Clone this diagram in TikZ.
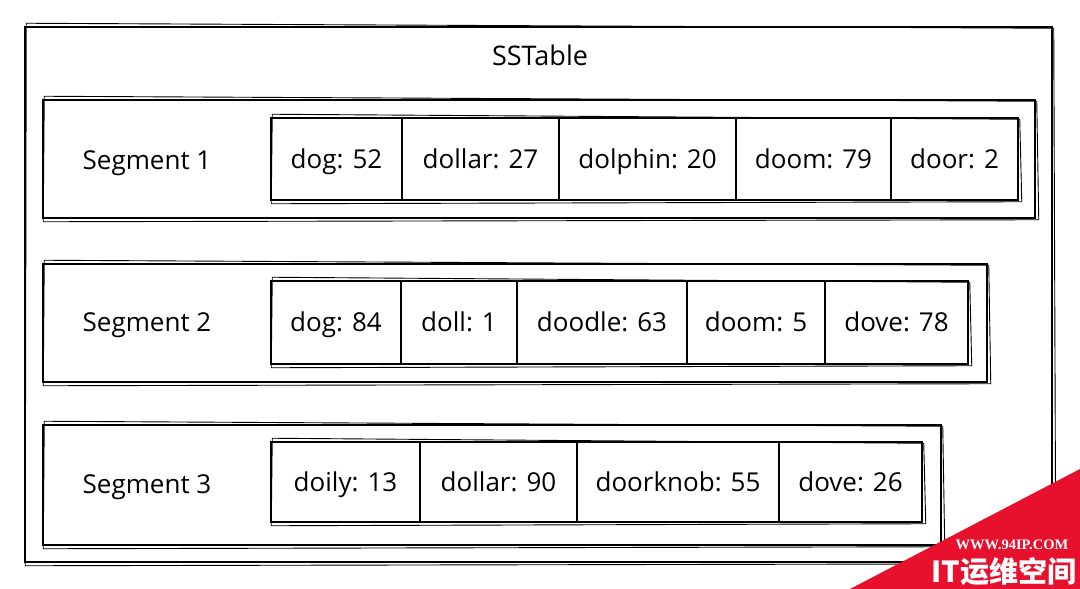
\documentclass[tikz,border=0pt]{standalone}
\usepackage{fontspec}
\setmainfont{Open Sans}
\newfontfamily\cjk{Noto Sans CJK SC}
\newfontfamily\wmserif{Liberation Serif}
\definecolor{wmred}{HTML}{E8112D}
\tikzset{
  sk/.style={draw, line width=1.5pt, inner sep=0pt},
  sk2/.style={draw, line width=0.9pt, line join=round},
  cellbox/.style={sk},
  lbl/.style={font=\fontsize{26}{30}\selectfont, inner sep=0pt,
    text height=19pt, text depth=1pt},
}
\newcommand{\mkcell}[6]{%
  \node[cellbox, lbl, minimum width={(#3-#2)*1pt}, minimum height={(#5-#4)*1pt}]
    (#1) at ({(#2+#3)/2},{(#4+#5)/2}) {#6};}
\newcommand{\mkbox}[5]{%
  \node[sk, minimum width={(#3-#2)*1pt}, minimum height={(#5-#4)*1pt}]
    (#1) at ({(#2+#3)/2},{(#4+#5)/2}) {};}
% second, slightly skewed stroke for a hand-drawn look
\newcommand{\sketch}[1]{%
  \draw[sk2] ([shift={(2,-3)}]#1.north west) -- ([shift={(1,2)}]#1.north east)
    -- ([shift={(3,1)}]#1.south east) -- ([shift={(1,3)}]#1.south west) -- cycle;}
\begin{document}
\begin{tikzpicture}[x=1pt,y=-1pt]
\useasboundingbox[fill=white] (0,0) rectangle (1080,589);
% outer SSTable
\mkbox{sst}{25}{1052}{27}{562}
\sketch{sst}
\node[lbl, font=\fontsize{27}{30}\selectfont] (title) at (540,56) {SSTable};
% segment boxes
\mkbox{seg1}{43}{1035}{100}{218}
\mkbox{seg2}{43}{987}{264}{382}
\mkbox{seg3}{43}{941}{425}{545}
\sketch{seg1}\sketch{seg2}\sketch{seg3}
\node[lbl] (s1) at (147,160) {Segment 1};
\node[lbl] (s2) at (147,322) {Segment 2};
\node[lbl] (s3) at (147,484) {Segment 3};
% row 1
\mkcell{a1}{271}{402}{118}{200}{dog: 52}
\mkcell{a2}{402}{559}{118}{200}{dollar: 27}
\mkcell{a3}{559}{736}{118}{200}{dolphin: 20}
\mkcell{a4}{736}{891}{118}{200}{doom: 79}
\mkcell{a5}{891}{1018}{118}{200}{door: 2}
% row 2
\mkcell{b1}{271}{401}{281}{364}{dog: 84}
\mkcell{b2}{401}{517}{281}{364}{doll: 1}
\mkcell{b3}{517}{687}{281}{364}{doodle: 63}
\mkcell{b4}{687}{825}{281}{364}{doom: 5}
\mkcell{b5}{825}{968}{281}{364}{dove: 78}
% row 3
\mkcell{c1}{271}{420}{442}{522}{doily: 13}
\mkcell{c2}{420}{577}{442}{522}{dollar: 90}
\mkcell{c3}{577}{779}{442}{522}{doorknob: 55}
\mkcell{c4}{779}{922}{442}{522}{dove: 26}
\node[sk, fill=none, minimum width=747pt, minimum height=82pt] (r1) at (644.5,159) {};
\node[sk, fill=none, minimum width=697pt, minimum height=83pt] (r2) at (619.5,322.5) {};
\node[sk, fill=none, minimum width=651pt, minimum height=80pt] (r3) at (596.5,482) {};
\sketch{r1}\sketch{r2}\sketch{r3}
% watermark
\fill[wmred] (1080,469) -- (1080,589) -- (850,589) -- cycle;
\node[text=white, inner sep=0pt, font=\wmserif\bfseries\fontsize{14.5}{16}\selectfont] (wm1) at (1012,545) {WWW.94IP.COM};
\node[text=white, inner sep=0pt, font=\cjk\bfseries\fontsize{29}{32}\selectfont] (wm2) at (1004,572) {IT运维空间};
\end{tikzpicture}
\end{document}
